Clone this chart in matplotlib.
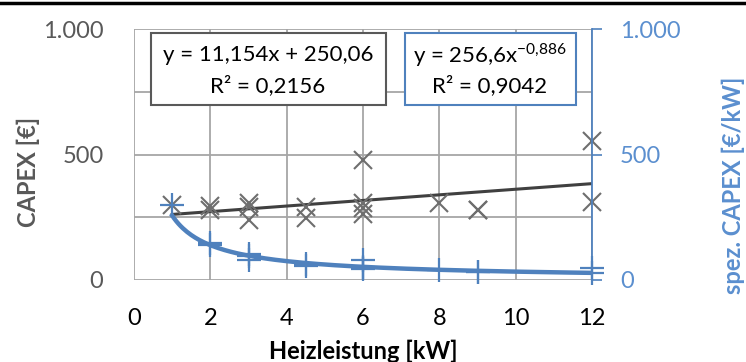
import matplotlib
matplotlib.use("Agg")
import matplotlib.pyplot as plt
from matplotlib.lines import Line2D
import numpy as np

plt.rcParams['font.family'] = ['Lato', 'DejaVu Sans']
plt.rcParams['mathtext.fontset'] = 'custom'
plt.rcParams['mathtext.rm'] = 'Lato'

# Data
heizleistung = [1, 2, 2, 3, 3, 3, 4.5, 4.5, 6, 6, 6, 6, 8, 9, 9, 12, 12]
capex = [300, 295, 278, 305, 290, 240, 292, 248, 480, 308, 288, 262, 308, 280, 278, 552, 312]
spez_capex = [300, 148, 139, 102, 97, 80, 65, 55, 80, 51, 48, 44, 38, 31, 31, 46, 26]

lin_slope, lin_icpt = 11.154, 250.06
pow_a, pow_b = 256.6, -0.886
trend_range = [1, 12]

xticks = [0, 2, 4, 6, 8, 10, 12]
grid_y = [0, 250, 500, 750, 1000]
yticks = [0, 500, 1000]
ytick_labels = ["0", "500", "1.000"]

grey_txt = '#595959'
blue = '#4f81bd'
blue_txt = '#5b8fcf'

fig = plt.figure(figsize=(7.46, 3.62), dpi=100)
ax = fig.add_axes([134/746, 1-280/362, (592-134)/746, 251/362])
ax2 = ax.twinx()

ax.set_xlim(0, 12)
ax.set_ylim(0, 1000)
ax2.set_ylim(0, 1000)

ax.set_xticks(xticks)
ax.set_yticks(grid_y)
ax.set_yticklabels([ytick_labels[yticks.index(v)] if v in yticks else "" for v in grid_y])
ax.grid(True, color='#a6a6a6', linewidth=1.3)
ax.set_axisbelow(True)
for s in ax.spines.values():
    s.set_visible(False)
for s in ax2.spines.values():
    s.set_visible(False)
ax2.spines['right'].set_visible(True)
ax2.spines['right'].set_color(blue)
ax2.spines['right'].set_linewidth(1.3)

ax.tick_params(axis='both', length=0, labelsize=17)
ax.tick_params(axis='y', colors=grey_txt, pad=22)
ax.tick_params(axis='x', colors='black', pad=20)
ax2.set_yticks(yticks)
ax2.set_yticklabels(ytick_labels)
ax2.tick_params(axis='y', colors=blue, labelcolor=blue_txt, length=7, width=1.2, labelsize=17, pad=13)

# linear trend
xt = np.linspace(trend_range[0], trend_range[1], 200)
ax.plot(xt, lin_slope*xt + lin_icpt, color='#404040', lw=2.2, zorder=3)
ax.plot(heizleistung, capex, linestyle='none', marker='x', markersize=13, mew=1.5,
        color='#6e6e6e', zorder=4, clip_on=False)

ax2.plot(xt, pow_a*xt**pow_b, color=blue, lw=3.2, zorder=3)
ax2.plot(heizleistung, spez_capex, linestyle='none', marker='+', markersize=17, mew=1.6,
         color=blue, zorder=4, clip_on=False)

# equation boxes
fig.patches.append(plt.Rectangle((151/746, 1-105/362), 235/746, 72/362, transform=fig.transFigure,
                                 fill=True, facecolor='white', edgecolor='#595959', lw=1.5, zorder=5))
fig.patches.append(plt.Rectangle((405/746, 1-105/362), 171/746, 72/362, transform=fig.transFigure,
                                 fill=True, facecolor='white', edgecolor=blue, lw=1.5, zorder=5))
tkw = dict(ha='center', va='center', fontsize=16, color='black', zorder=7)
fig.text(268/746, 1-55/362, "y = 11,154x + 250,06", **tkw)
fig.text(268/746, 1-86/362, "R² = 0,2156", **tkw)
fig.text(490/746, 1-55/362, "y = 256,6x$^{\\mathregular{-0{,}886}}$", **tkw)
fig.text(490/746, 1-86/362, "R² = 0,9042", **tkw)

# axis labels
fig.text(28/746, 1-172/362, "CAPEX [€]", rotation=90, ha='center', va='center', fontsize=17,
         fontweight='bold', color=grey_txt)
fig.text(733/746, 1-185/362, "spez. CAPEX [€/kW]", rotation=90, ha='center', va='center', fontsize=17,
         fontweight='bold', color=blue_txt)
fig.text(363/746, 1-351/362, "Heizleistung [kW]", ha='center', va='center', fontsize=17,
         fontweight='bold', color='black')

fig.add_artist(Line2D([0, 1], [1-3/362, 1-3/362], color='black', lw=2.5, transform=fig.transFigure))

fig.savefig("out.png", dpi=100)
